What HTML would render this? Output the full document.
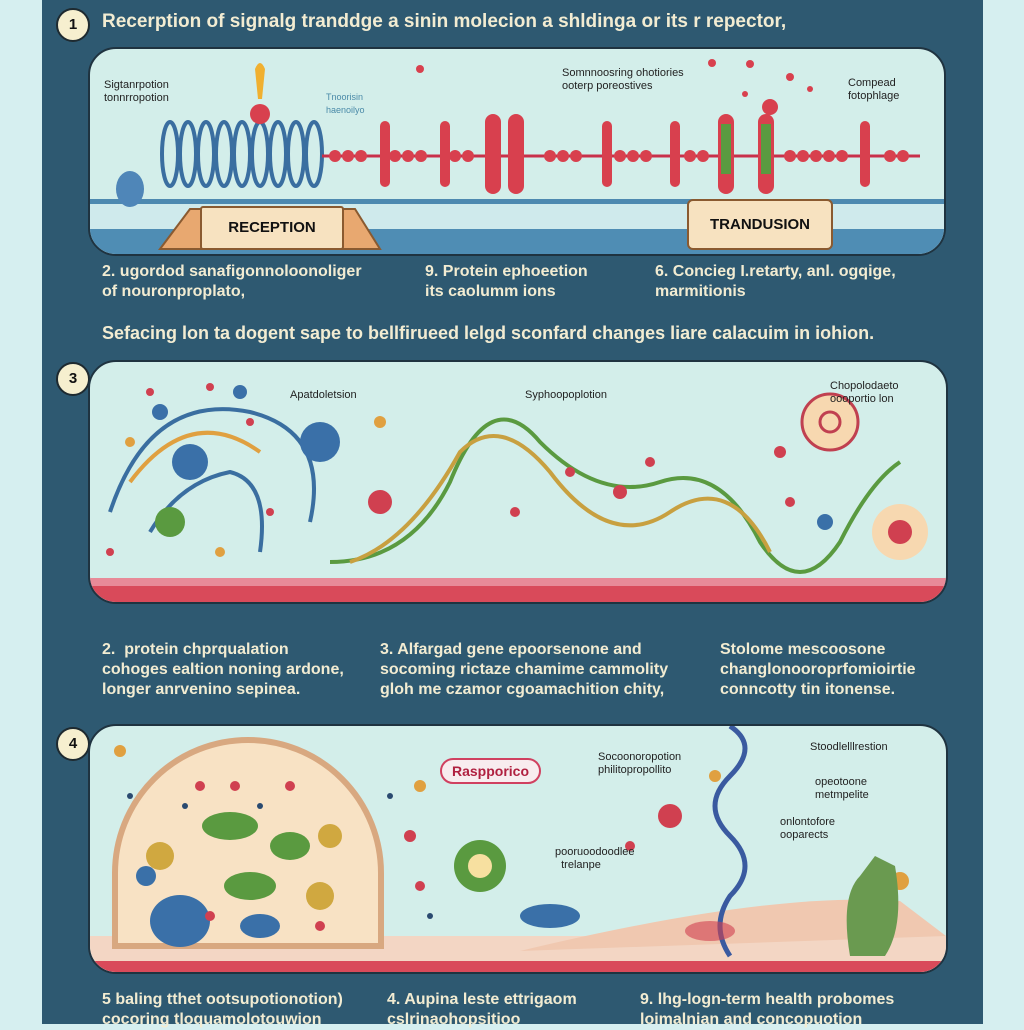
<!DOCTYPE html>
<html><head><meta charset="utf-8">
<style>
html,body{margin:0;padding:0}
body{width:1024px;height:1024px;position:relative;overflow:hidden;background:#d6eff0;font-family:"Liberation Sans",sans-serif}
#main{position:absolute;left:42px;top:0;width:941px;height:1024px;background:#2e5971}
.t{position:absolute;color:#f2ecd2;font-weight:bold;font-size:16px;line-height:20px;white-space:nowrap}
.num{position:absolute;width:30px;height:30px;border-radius:50%;background:#f6efcf;border:2px solid #1e2a30;font:bold 15px "Liberation Sans",sans-serif;text-align:center;line-height:30px;color:#111}
.panel{position:absolute;background:#d3eeea;border:2px solid #1f3340;border-radius:28px;overflow:hidden}
.lab{position:absolute;font-size:11px;line-height:13px;color:#222;white-space:nowrap}
</style></head><body>
<div id="main"></div>
<div class="num" style="left:56px;top:8px">1</div>
<div class="t" style="left:102px;top:12px;font-size:19px">Recerption of signalg tranddge a sinin molecion a shldinga or its r repector,</div>

<div class="panel" style="left:88px;top:47px;width:854px;height:205px">
<svg width="854" height="205" style="position:absolute;left:0;top:0">
<rect x="0" y="150" width="854" height="5" fill="#4d89b0"/>
<rect x="0" y="155" width="854" height="25" fill="#cfeaec"/>
<rect x="0" y="180" width="854" height="25" fill="#4f8db4"/>
<g fill="none" stroke="#3a6ea0" stroke-width="4">
<ellipse cx="80" cy="105" rx="8" ry="32"/><ellipse cx="98" cy="105" rx="8" ry="32"/><ellipse cx="116" cy="105" rx="8" ry="32"/><ellipse cx="134" cy="105" rx="8" ry="32"/><ellipse cx="152" cy="105" rx="8" ry="32"/><ellipse cx="170" cy="105" rx="8" ry="32"/><ellipse cx="188" cy="105" rx="8" ry="32"/><ellipse cx="206" cy="105" rx="8" ry="32"/><ellipse cx="224" cy="105" rx="8" ry="32"/></g>
<line x1="232" y1="107" x2="830" y2="107" stroke="#c8304a" stroke-width="3"/>
<g fill="#d8404e">
<circle cx="245" cy="107" r="6"/><circle cx="258" cy="107" r="6"/><circle cx="271" cy="107" r="6"/><circle cx="305" cy="107" r="6"/><circle cx="318" cy="107" r="6"/><circle cx="331" cy="107" r="6"/><circle cx="365" cy="107" r="6"/><circle cx="378" cy="107" r="6"/><circle cx="460" cy="107" r="6"/><circle cx="473" cy="107" r="6"/><circle cx="486" cy="107" r="6"/><circle cx="530" cy="107" r="6"/><circle cx="543" cy="107" r="6"/><circle cx="556" cy="107" r="6"/><circle cx="600" cy="107" r="6"/><circle cx="613" cy="107" r="6"/><circle cx="700" cy="107" r="6"/><circle cx="713" cy="107" r="6"/><circle cx="726" cy="107" r="6"/><circle cx="739" cy="107" r="6"/><circle cx="752" cy="107" r="6"/><circle cx="800" cy="107" r="6"/><circle cx="813" cy="107" r="6"/>
<rect x="290" y="72" width="10" height="66" rx="5"/><rect x="350" y="72" width="10" height="66" rx="5"/><rect x="395" y="65" width="16" height="80" rx="8"/><rect x="418" y="65" width="16" height="80" rx="8"/><rect x="512" y="72" width="10" height="66" rx="5"/><rect x="580" y="72" width="10" height="66" rx="5"/><rect x="628" y="65" width="16" height="80" rx="8"/><rect x="668" y="65" width="16" height="80" rx="8"/><rect x="770" y="72" width="10" height="66" rx="5"/>
<circle cx="170" cy="65" r="10"/><circle cx="330" cy="20" r="4"/><circle cx="622" cy="14" r="4"/><circle cx="660" cy="15" r="4"/><circle cx="680" cy="58" r="8"/><circle cx="700" cy="28" r="4"/><circle cx="655" cy="45" r="3"/><circle cx="720" cy="40" r="3"/></g>
<rect x="631" y="75" width="10" height="50" fill="#5a9a40"/><rect x="671" y="75" width="10" height="50" fill="#5a9a40"/>
<path d="M165 20 q5 -12 10 0 l-3 30 h-4z" fill="#f0b030"/>
<ellipse cx="40" cy="140" rx="14" ry="18" fill="#4f86b8"/>
<path d="M70 200 L100 160 H265 L290 200Z" fill="#e8a870" stroke="#8a5a30" stroke-width="2"/>
</svg>
<div style="position:absolute;left:110px;top:157px;width:140px;height:40px;background:#f7e2c0;border:2px solid #8a5a30;border-radius:3px;font-weight:bold;font-size:15px;line-height:40px;text-align:center;color:#111">RECEPTION</div>
<div style="position:absolute;left:597px;top:150px;width:142px;height:47px;background:#f7e2c0;border:2px solid #8a5a30;border-radius:6px;font-weight:bold;font-size:15px;line-height:47px;text-align:center;color:#111">TRANDUSION</div>
<div class="lab" style="left:14px;top:30px">Sigtanrpotion<br>tonnrropotion</div>
<div class="lab" style="left:236px;top:42px;color:#4a8aa8;font-size:9px">Tnoorisin<br>haenoilyo</div>
<div class="lab" style="left:472px;top:18px">Somnnoosring ohotiories<br>ooterp poreostives</div>
<div class="lab" style="left:758px;top:28px">Compead<br>fotophlage</div>
</div>

<div class="t" style="left:102px;top:262px">2. ugordod sanafigonnoloonoliger<br>of nouronproplato,</div>
<div class="t" style="left:425px;top:262px">9. Protein ephoeetion<br>its caolumm ions</div>
<div class="t" style="left:655px;top:262px">6. Concieg I.retarty, anl. ogqige,<br>marmitionis</div>
<div class="t" style="left:102px;top:323px;font-size:18px">Sefacing lon ta dogent sape to bellfirueed lelgd sconfard changes liare calacuim in iohion.</div>

<div class="num" style="left:56px;top:362px">3</div>
<div class="panel" style="left:88px;top:360px;width:856px;height:240px">
<svg width="856" height="240" style="position:absolute;left:0;top:0">
<rect x="0" y="220" width="856" height="20" fill="#d94a5a"/>
<rect x="0" y="216" width="856" height="8" fill="#e88a98"/>
<g fill="none" stroke-width="4"><path d="M20 150 q40 -120 140 -100 q80 20 60 110" stroke="#3a6ea0"/><path d="M40 120 q60 -80 130 -30" stroke="#e0a040"/><path d="M60 170 q30 -50 80 -60 q40 10 30 80" stroke="#3a6ea0"/><path d="M240 200 q80 0 120 -80 q40 -100 90 -40 q60 60 120 40 q60 -20 100 60 q40 60 80 0 q30 -60 60 -80" stroke="#5a9a40"/><path d="M260 200 q60 -20 110 -110 q40 -40 90 20 q60 80 120 40 q60 -40 100 40" stroke="#c8a040"/></g>
<circle cx="230" cy="80" r="20" fill="#3a70a8"/><circle cx="80" cy="160" r="15" fill="#5a9a40"/><circle cx="100" cy="100" r="18" fill="#3a70a8"/><circle cx="70" cy="50" r="8" fill="#3a70a8"/><circle cx="150" cy="30" r="7" fill="#3a70a8"/><circle cx="740" cy="60" r="28" fill="#f7d8b0" stroke="#c04050" stroke-width="3"/><circle cx="740" cy="60" r="10" fill="none" stroke="#c04050" stroke-width="3"/><circle cx="810" cy="170" r="28" fill="#f7d8b0"/><circle cx="810" cy="170" r="12" fill="#d04050"/><circle cx="290" cy="140" r="12" fill="#d04050"/><circle cx="735" cy="160" r="8" fill="#3a70a8"/>
<g fill="#d04050"><circle cx="480" cy="110" r="5"/><circle cx="530" cy="130" r="7"/><circle cx="425" cy="150" r="5"/><circle cx="690" cy="90" r="6"/><circle cx="700" cy="140" r="5"/><circle cx="60" cy="30" r="4"/><circle cx="120" cy="25" r="4"/><circle cx="160" cy="60" r="4"/><circle cx="20" cy="190" r="4"/><circle cx="180" cy="150" r="4"/><circle cx="560" cy="100" r="5"/></g>
<g fill="#e0a040"><circle cx="40" cy="80" r="5"/><circle cx="290" cy="60" r="6"/><circle cx="130" cy="190" r="5"/></g>
</svg>
<div class="lab" style="left:200px;top:27px">Apatdoletsion</div>
<div class="lab" style="left:435px;top:27px">Syphoopoplotion</div>
<div class="lab" style="left:740px;top:18px">Chopolodaeto<br>oooportio lon</div>
</div>

<div class="t" style="left:102px;top:640px">2.&nbsp; protein chprqualation<br>cohoges ealtion noning ardone,<br>longer anrvenino sepinea.</div>
<div class="t" style="left:380px;top:640px">3. Alfargad gene epoorsenone and<br>socoming rictaze chamime cammolity<br>gloh me czamor cgoamachition chity,</div>
<div class="t" style="left:720px;top:640px">Stolome mescoosone<br>changlonooroprfomioirtie<br>conncotty tin itonense.</div>

<div class="num" style="left:56px;top:727px">4</div>
<div class="panel" style="left:88px;top:724px;width:856px;height:246px">
<svg width="856" height="246" style="position:absolute;left:0;top:0">
<path d="M0 210 L856 210 L856 246 L0 246Z" fill="#f3d6c4"/>
<path d="M0 235 H856 V246 H0Z" fill="#d94a5a"/>
<path d="M25 220 L25 147 A133 133 0 0 1 291 147 L291 220Z" fill="#f8e2c4" stroke="#d8a880" stroke-width="6"/>
<path d="M430 225 q250 -60 380 -50 L856 210" fill="#f0c8b0"/>
<g fill="#5a9a40"><ellipse cx="140" cy="100" rx="28" ry="14"/><ellipse cx="160" cy="160" rx="26" ry="14"/><ellipse cx="200" cy="120" rx="20" ry="14"/><circle cx="390" cy="140" r="26"/></g>
<g fill="#d0a840"><circle cx="70" cy="130" r="14"/><circle cx="230" cy="170" r="14"/><circle cx="240" cy="110" r="12"/></g>
<ellipse cx="90" cy="195" rx="30" ry="26" fill="#3a70a8"/><ellipse cx="170" cy="200" rx="20" ry="12" fill="#3a70a8"/><ellipse cx="460" cy="190" rx="30" ry="12" fill="#3a70a8"/><circle cx="56" cy="150" r="10" fill="#3a70a8"/>
<g fill="#d04050"><circle cx="110" cy="60" r="5"/><circle cx="145" cy="60" r="5"/><circle cx="120" cy="190" r="5"/><circle cx="200" cy="60" r="5"/><circle cx="230" cy="200" r="5"/><circle cx="320" cy="110" r="6"/><circle cx="330" cy="160" r="5"/><circle cx="540" cy="120" r="5"/></g>
<g fill="#2a4a70"><circle cx="95" cy="80" r="3"/><circle cx="170" cy="80" r="3"/><circle cx="40" cy="70" r="3"/><circle cx="300" cy="70" r="3"/><circle cx="340" cy="190" r="3"/></g>
<circle cx="30" cy="25" r="6" fill="#e0a040"/><circle cx="330" cy="60" r="6" fill="#e0a040"/><circle cx="625" cy="50" r="6" fill="#e0a040"/><circle cx="810" cy="155" r="9" fill="#e0a040"/>
<path d="M760 230 q-10 -60 10 -80 l15 -20 l20 10 q10 60 -10 90z" fill="#6a9a50"/>
<path d="M640 0 q30 20 0 50 q-30 30 0 60 q30 30 0 60 q-20 30 0 60" fill="none" stroke="#3a5aa0" stroke-width="5"/>
<circle cx="390" cy="140" r="12" fill="#f7e0a0"/><circle cx="580" cy="90" r="12" fill="#d04050"/><ellipse cx="620" cy="205" rx="25" ry="10" fill="#d04050" opacity="0.6"/>
</svg>
<div style="position:absolute;left:350px;top:32px;padding:3px 10px;border:2px solid #d04060;border-radius:14px;background:#f8ecef;color:#b02040;font-weight:bold;font-size:14px">Raspporico</div>
<div class="lab" style="left:508px;top:25px">Socoonoropotion<br>philitopropollito</div>
<div class="lab" style="left:465px;top:120px">pooruoodoodlee<br>&nbsp;&nbsp;trelanpe</div>
<div class="lab" style="left:720px;top:15px">Stoodlelllrestion</div>
<div class="lab" style="left:725px;top:50px">opeotoone<br>metmpelite</div>
<div class="lab" style="left:690px;top:90px">onlontofore<br>ooparects</div>
</div>

<div class="t" style="left:102px;top:990px">5 baling tthet ootsupotionotion)<br>cocoring tloquamolotouwion</div>
<div class="t" style="left:387px;top:990px">4. Aupina leste ettrigaom<br>cslrinaohopsitioo</div>
<div class="t" style="left:640px;top:990px">9. lhg-logn-term health probomes<br>loimalnian and concopuotion</div>
</body></html>
